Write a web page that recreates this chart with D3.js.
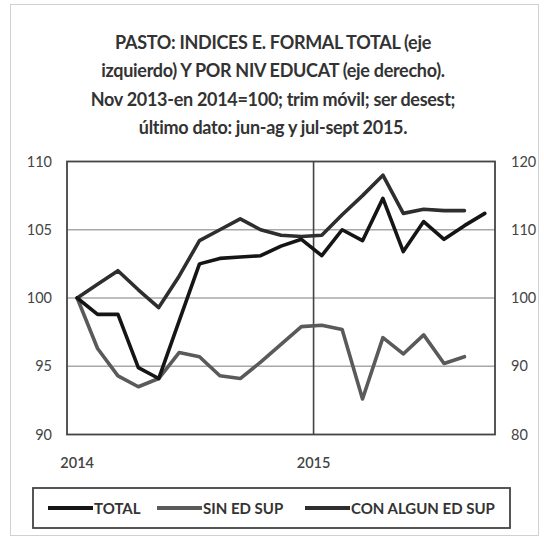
<!DOCTYPE html>
<html>
<head>
<meta charset="utf-8">
<script src="https://cdn.jsdelivr.net/npm/d3@7"></script>
<style>
  html, body { margin: 0; padding: 0; background: #fff; }
  svg { display: block; }
  text { font-family: Lato, "Open Sans", sans-serif; }
</style>
</head>
<body>
<svg id="chart" width="544" height="540"></svg>
<script>
// ---- data ----
const categories = [
  "nov13-ene14","dic-feb14","ene-mar14","feb-abr14","mar-may14","abr-jun14","may-jul14",
  "jun-ago14","jul-sep14","ago-oct14","sep-nov14","oct-dic14","nov14-ene15","dic-feb15",
  "ene-mar15","feb-abr15","mar-may15","abr-jun15","may-jul15","jun-ago15","jul-sep15"
];
const totalValues = [100, 98.8, 98.8, 94.9, 94.1, 98.3, 102.5, 102.9, 103.0, 103.1, 103.8,
  104.3, 103.1, 105.0, 104.2, 107.3, 103.4, 105.6, 104.3, 105.3, 106.2];
const sinEdSupValues = [100, 92.6, 88.6, 87.0, 88.2, 92.0, 91.4, 88.6, 88.2, 90.6, 93.2,
  95.8, 96.0, 95.4, 85.2, 94.2, 91.8, 94.6, 90.4, 91.4];
const conEdSupValues = [100, 102.0, 104.0, 101.2, 98.6, 103.2, 108.4, 110.0, 111.6, 110.0, 109.2,
  109.0, 109.2, 112.2, 115.0, 118.0, 112.4, 113.0, 112.8, 112.8];
const seriesNames = ["TOTAL", "SIN ED SUP", "CON ALGUN ED SUP"];
const leftTicks = [90, 95, 100, 105, 110];
const rightTicks = [80, 90, 100, 110, 120];
const yearLabels = ["2014", "2015"];
const yearStartIndex = [0, 12];
const titleLines = [
  "PASTO: INDICES E. FORMAL TOTAL (eje",
  "izquierdo) Y POR NIV EDUCAT (eje derecho).",
  "Nov 2013-en 2014=100; trim móvil; ser desest;",
  "último dato: jun-ag  y jul-sept 2015."
];

// ---- layout ----
const svg = d3.select("#chart");
const plot = { left: 67, right: 495, top: 161.5, bottom: 434.5 };
const colors = { TOTAL: "#151515", "SIN ED SUP": "#5a5a5a", "CON ALGUN ED SUP": "#2e2e2e" };

// outer frame
svg.append("rect").attr("x", 10.5).attr("y", 4.5).attr("width", 528).attr("height", 531)
  .attr("fill", "#fff").attr("stroke", "#d0d0d0").attr("stroke-width", 1);

// title
svg.append("g").selectAll("text").data(titleLines).join("text")
  .attr("x", 273).attr("y", (d, i) => 49 + i * 28.3)
  .attr("text-anchor", "middle")
  .attr("font-size", 18).attr("font-weight", "bold").attr("fill", "#333")
  .attr("letter-spacing", -0.3)
  .text(d => d);

const x = d3.scalePoint().domain(categories).range([plot.left, plot.right]).padding(0.5);
const yL = d3.scaleLinear().domain([90, 110]).range([plot.bottom, plot.top]);
const yR = d3.scaleLinear().domain([80, 120]).range([plot.bottom, plot.top]);

// gridlines
svg.append("g").selectAll("line").data(leftTicks.filter(t => t > 90 && t < 110)).join("line")
  .attr("x1", plot.left).attr("x2", plot.right)
  .attr("y1", d => yL(d)).attr("y2", d => yL(d))
  .attr("stroke", "#a8a8a8").attr("stroke-width", 1.6);

// vertical year separator
const step = x.step();
const yearX = i => i === 0 ? x(categories[0]) : x(categories[i]) - step / 2 + 2;
svg.append("line")
  .attr("x1", yearX(yearStartIndex[1])).attr("x2", yearX(yearStartIndex[1]))
  .attr("y1", plot.top).attr("y2", plot.bottom)
  .attr("stroke", "#444").attr("stroke-width", 1.6);

// plot border
svg.append("rect").attr("x", plot.left).attr("y", plot.top)
  .attr("width", plot.right - plot.left).attr("height", plot.bottom - plot.top)
  .attr("fill", "none").attr("stroke", "#444").attr("stroke-width", 1.8);

// axes (labels only)
const axL = svg.append("g").attr("transform", `translate(${plot.left - 15},0)`)
  .call(d3.axisLeft(yL).tickValues(leftTicks).tickSize(0).tickPadding(0));
axL.select(".domain").remove();
const axR = svg.append("g").attr("transform", `translate(${plot.right + 16},0)`)
  .call(d3.axisRight(yR).tickValues(rightTicks).tickSize(0).tickPadding(0));
axR.select(".domain").remove();
[axL, axR].forEach(a => a.selectAll("text")
  .attr("font-size", 14.5).attr("fill", "#444").attr("font-family", "Lato, 'Open Sans', sans-serif"));

// year labels
svg.append("g").selectAll("text").data(yearLabels).join("text")
  .attr("x", (d, i) => yearX(yearStartIndex[i]))
  .attr("y", 468)
  .attr("text-anchor", "middle")
  .attr("font-size", 14.5).attr("font-weight", 600).attr("fill", "#444")
  .text(d => d);

// lines
const lineL = d3.line().x((d, i) => x(categories[i])).y(d => yL(d));
const lineR = d3.line().x((d, i) => x(categories[i])).y(d => yR(d));
const g = svg.append("g").attr("fill", "none").attr("stroke-width", 3.6)
  .attr("stroke-linejoin", "round").attr("stroke-linecap", "round");
g.append("path").datum(sinEdSupValues).attr("d", lineR).attr("stroke", colors["SIN ED SUP"]);
g.append("path").datum(conEdSupValues).attr("d", lineR).attr("stroke", colors["CON ALGUN ED SUP"]);
g.append("path").datum(totalValues).attr("d", lineL).attr("stroke", colors.TOTAL);

// legend
svg.append("rect").attr("x", 33).attr("y", 488).attr("width", 477).attr("height", 40)
  .attr("fill", "#fff").attr("stroke", "#444").attr("stroke-width", 1.8);
const legendX = [48, 157, 305];
const lg = svg.append("g").selectAll("g").data(seriesNames).join("g")
  .attr("transform", (d, i) => `translate(${legendX[i]},508)`);
lg.append("line").attr("x1", 0).attr("x2", 45).attr("y1", 0).attr("y2", 0)
  .attr("stroke", d => colors[d]).attr("stroke-width", 4);
lg.append("text").attr("x", 46).attr("y", 5.5)
  .attr("font-size", 15).attr("font-weight", "bold").attr("fill", "#333")
  .text(d => d);
</script>
</body>
</html>
